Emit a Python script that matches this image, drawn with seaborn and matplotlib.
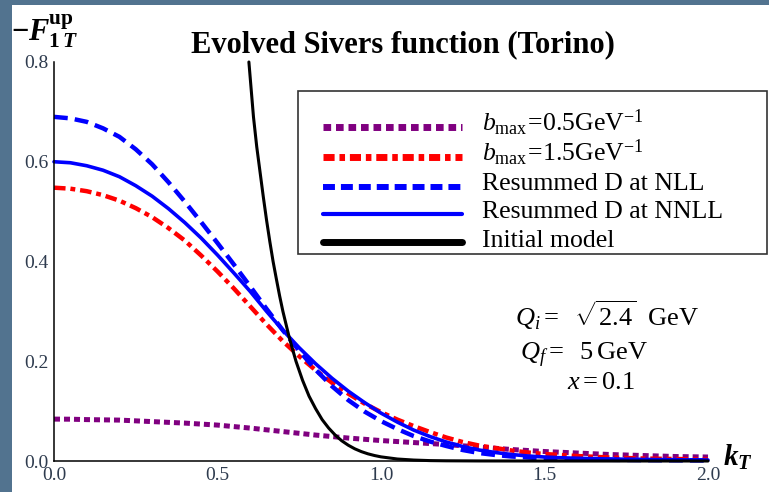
import numpy as np
import pandas as pd
import matplotlib
matplotlib.use("Agg")
import matplotlib.pyplot as plt
from matplotlib.lines import Line2D
from matplotlib.patches import Rectangle
import seaborn as sns

# ---------------- data ----------------
k_grid = [0.00, 0.05, 0.10, 0.15, 0.20, 0.25, 0.30, 0.35, 0.40, 0.45, 0.50,
          0.55, 0.60, 0.65, 0.70, 0.75, 0.80, 0.85, 0.90, 0.95, 1.00,
          1.05, 1.10, 1.15, 1.20, 1.25, 1.30, 1.35, 1.40, 1.45, 1.50,
          1.55, 1.60, 1.65, 1.70, 1.75, 1.80, 1.85, 1.90, 1.95, 2.00]
bmax05 = [0.084, 0.0838, 0.083, 0.0825, 0.082, 0.0805, 0.079, 0.0775, 0.076, 0.074, 0.072,
          0.069, 0.066, 0.0625, 0.059, 0.0555, 0.052, 0.049, 0.046, 0.0435, 0.041,
          0.039, 0.037, 0.035, 0.033, 0.0305, 0.028, 0.0255, 0.023, 0.021, 0.019,
          0.0175, 0.016, 0.0145, 0.013, 0.012, 0.011, 0.010, 0.009, 0.0085, 0.008]
bmax15 = [0.548, 0.546, 0.541, 0.533, 0.522, 0.507, 0.489, 0.467, 0.442, 0.412, 0.380,
          0.346, 0.310, 0.274, 0.240, 0.210, 0.182, 0.157, 0.135, 0.115, 0.098,
          0.083, 0.070, 0.058, 0.047, 0.038, 0.031, 0.026, 0.021, 0.017, 0.014,
          0.012, 0.010, 0.0085, 0.007, 0.006, 0.005, 0.0045, 0.004, 0.0035, 0.003]
nll = [0.690, 0.687, 0.680, 0.667, 0.650, 0.625, 0.595, 0.559, 0.520, 0.479, 0.437,
       0.394, 0.350, 0.305, 0.262, 0.221, 0.183, 0.150, 0.122, 0.099, 0.080,
       0.064, 0.050, 0.039, 0.030, 0.022, 0.016, 0.012, 0.009, 0.007, 0.005,
       0.004, 0.003, 0.0027, 0.0024, 0.0021, 0.0018, 0.0016, 0.0014, 0.0012, 0.001]
nnll = [0.600, 0.598, 0.592, 0.583, 0.570, 0.552, 0.531, 0.506, 0.478, 0.447, 0.413,
        0.377, 0.340, 0.300, 0.262, 0.227, 0.195, 0.166, 0.140, 0.117, 0.096,
        0.078, 0.062, 0.049, 0.038, 0.029, 0.022, 0.017, 0.013, 0.010, 0.008,
        0.0065, 0.0055, 0.0047, 0.004, 0.0035, 0.003, 0.0027, 0.0024, 0.0022, 0.002]
k_init = [0.596, 0.61, 0.62, 0.63, 0.64, 0.65, 0.66, 0.67, 0.68, 0.69, 0.70,
          0.72, 0.74, 0.76, 0.78, 0.80, 0.82, 0.84, 0.86, 0.88, 0.90, 0.92,
          0.94, 0.96, 0.98, 1.00, 1.05, 1.10, 1.15, 1.20, 1.30, 1.50, 2.00]
initial = [0.800, 0.690, 0.630, 0.580, 0.530, 0.483, 0.440, 0.400, 0.365, 0.331, 0.300,
           0.246, 0.200, 0.162, 0.130, 0.105, 0.083, 0.066, 0.052, 0.0405, 0.0316, 0.0244,
           0.0188, 0.0144, 0.011, 0.0083, 0.004, 0.0019, 0.0008, 0.0004, 0.0001, 0.0, 0.0]

labels = [r'$b_{\rm max}\!=\!0.5{\rm GeV}^{-1}$',
          r'$b_{\rm max}\!=\!1.5{\rm GeV}^{-1}$',
          'Resummed D at NLL',
          'Resummed D at NNLL',
          'Initial model']
x_ticks = [0.0, 0.5, 1.0, 1.5, 2.0]
x_ticklabels = ['0.0', '0.5', '1.0', '1.5', '2.0']
y_ticks = [0.0, 0.2, 0.4, 0.6, 0.8]
y_ticklabels = ['0.0', '0.2', '0.4', '0.6', '0.8']

# ---------------- style ----------------
sns.set_theme(style='white')
plt.rcParams['font.family'] = ['Liberation Serif', 'DejaVu Serif']
plt.rcParams['mathtext.fontset'] = 'custom'
plt.rcParams['mathtext.rm'] = 'Liberation Serif'
plt.rcParams['mathtext.it'] = 'Liberation Serif:italic'
plt.rcParams['mathtext.bf'] = 'Liberation Serif:bold'
plt.rcParams['mathtext.sf'] = 'Liberation Serif:bold:italic'

W, H = 769, 492
fig = plt.figure(figsize=(W / 100, H / 100), dpi=100)
fig.patch.set_facecolor('#52738f')
fig.add_artist(Rectangle((12 / W, 0), 1, (H - 5) / H, transform=fig.transFigure,
                         facecolor='white', edgecolor='none', zorder=-10))

x0, x1 = 54, 708
y0, y1 = 461, 62
ax = fig.add_axes([x0 / W, 1 - y0 / H, (x1 - x0) / W, (y0 - y1) / H])
ax.set_facecolor('none')

df = pd.DataFrame({'k': k_grid, 'b05': bmax05, 'b15': bmax15, 'nll': nll, 'nnll': nnll})
dfi = pd.DataFrame({'k': k_init, 'init': initial})

sns.lineplot(data=df, x='k', y='b05', ax=ax, color='#800080', lw=3.6,
             linestyle=(0, (1.2, 0.8)), clip_on=False)
sns.lineplot(data=df, x='k', y='b15', ax=ax, color='#ff0000', lw=3.2,
             linestyle=(0, (2.6, 1.1, 1.1, 1.1)), clip_on=False)
sns.lineplot(data=df, x='k', y='nll', ax=ax, color='#0000ff', lw=3.2,
             linestyle=(0, (3.1, 1.6)), clip_on=False)
sns.lineplot(data=df, x='k', y='nnll', ax=ax, color='#0000ff', lw=2.6, clip_on=False)
sns.lineplot(data=dfi, x='k', y='init', ax=ax, color='black', lw=2.2, clip_on=False)

ax.set_xlim(0, 2.0)
ax.set_ylim(0, 0.8)
ax.set_xlabel('')
ax.set_ylabel('')
for s in ['top', 'right']:
    ax.spines[s].set_visible(False)
for s in ['left', 'bottom']:
    ax.spines[s].set_color('black')
    ax.spines[s].set_linewidth(1.1)

ax.set_xticks(x_ticks)
ax.set_xticklabels(x_ticklabels)
ax.set_yticks(y_ticks)
ax.set_yticklabels(y_ticklabels)
ax.set_xticks(np.arange(0, 2.01, 0.1), minor=True)
ax.set_yticks(np.arange(0, 0.801, 0.05), minor=True)
ax.tick_params(which='major', direction='in', length=6.5, width=1.0, color='black',
               labelsize=14, labelcolor='#2e3b4e', pad=4)
ax.tick_params(which='minor', direction='in', length=4.3, width=1.0, color='black')

# legend (box + rows placed in figure pixels)
handle_styles = [
    dict(color='#800080', lw=5.0, linestyle=(0, (1.1, 0.7))),
    dict(color='#ff0000', lw=5.0, linestyle=(0, (1.6, 0.7, 0.8, 0.7))),
    dict(color='#0000ff', lw=4.3, linestyle=(0, (2.0, 1.0))),
    dict(color='#0000ff', lw=3.0),
    dict(color='black', lw=5.0),
]
row_line_y = [127, 157, 187, 214, 242]
row_base_y = [131, 161, 190, 218, 247]
fig.add_artist(Rectangle((298 / W, 1 - 254 / H), (767 - 298) / W, (254 - 91) / H,
                         transform=fig.transFigure, facecolor='none',
                         edgecolor='#333333', lw=1.2, zorder=5))
for st, lab, ly, by in zip(handle_styles, labels, row_line_y, row_base_y):
    fig.add_artist(Line2D([323 / W, 462 / W], [1 - ly / H, 1 - ly / H],
                          transform=fig.transFigure, zorder=6, **st))
    fig.text(482 / W, 1 - by / H, lab, ha='left', va='baseline', fontsize=18.5,
             color='black', zorder=6)

# texts
fig.text(403 / W, 1 - 52 / H, 'Evolved Sivers function (Torino)', ha='center',
         va='baseline', fontsize=22, fontweight='bold', color='black')
fig.text(11 / W, 1 - 40 / H, r'$\mathbf{-}\mathsf{F}_{\mathbf{1}\,\mathsf{T}}^{\mathbf{up}}$',
         ha='left', va='baseline', fontsize=22, color='black')
fig.text(723 / W, 1 - 466 / H, r'$\mathsf{k}_{\mathsf{T}}$', ha='left', va='baseline',
         fontsize=21, color='black')
fig.text(515 / W, 1 - 326 / H, r'$Q_i =\ \ \sqrt{2.4}\ \ {\rm GeV}$', ha='left',
         va='baseline', fontsize=19, color='black')
fig.text(520 / W, 1 - 360 / H, r'$Q_f =\ \ 5\,{\rm GeV}$', ha='left',
         va='baseline', fontsize=19, color='black')
fig.text(567 / W, 1 - 389 / H, r'$x = 0.1$', ha='left',
         va='baseline', fontsize=19, color='black')

fig.savefig('out.png', dpi=100, facecolor=fig.get_facecolor())
